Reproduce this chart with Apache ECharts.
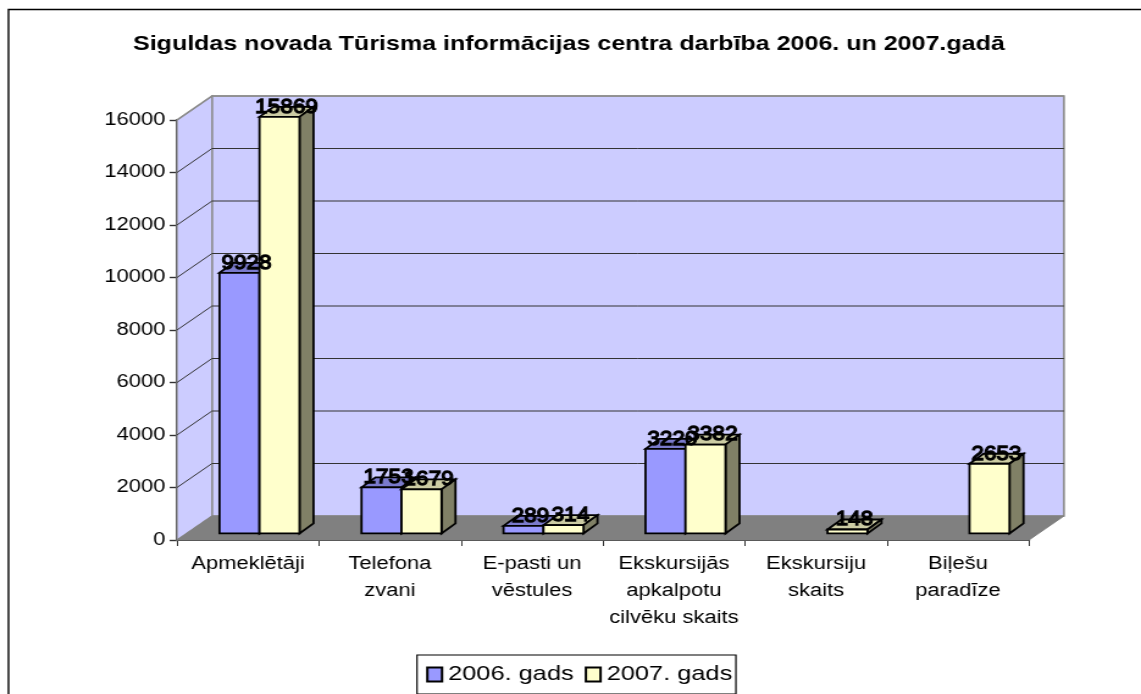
<!DOCTYPE html>
<html><head><meta charset="utf-8">
<style>
html,body{margin:0;padding:0;background:#fff;overflow:hidden;width:1141px;height:694px}
#main{width:935px;height:694px;transform-origin:0 0;transform:scaleX(1.2203)}
</style>
<script src="https://cdn.jsdelivr.net/npm/echarts@6/dist/echarts.min.js"></script>
</head><body><div id="main"></div>
<script>
const titleText = 'Siguldas novada Tūrisma informācijas centra darbība 2006. un 2007.gadā';
const categories = ['Apmeklētāji','Telefona\nzvani','E-pasti un\nvēstules','Ekskursijās\napkalpotu\ncilvēku skaits','Ekskursiju\nskaits','Biļešu\nparadīze'];
const series2006 = [9928,1753,289,3220,null,null];
const series2007 = [15869,1679,314,3382,148,2653];
const seriesNames = ['2006. gads','2007. gads'];
const yTicks = [0,2000,4000,6000,8000,10000,12000,14000,16000];

const FONT = '"Liberation Sans", Arial, sans-serif';
const S = 1141/935;
const X = v => v/S;
// depth of the 3D box, in the un-stretched drawing space
const wallDX = X(35), wallDY = -24;
const barDX = X(14), barDY = -10;
const barOffX = X(11.5), barOffY = -6.6;
const barW = X(40);

function shade(hex,f){const n=parseInt(hex.slice(1),16);
  const c=[n>>16,(n>>8)&255,n&255].map(v=>Math.round(v*f));
  return `rgb(${c.join(',')})`;}

function wallItem(params, api){
  const v = api.value(0);
  const r = params.coordSys;
  const y = api.coord([0,v])[1];
  const x0 = r.x, x1 = r.x + r.width;
  const ch = [];
  if (params.dataIndex === 0) {
    const top = r.y, bot = r.y + r.height;
    ch.push({type:'polygon',shape:{points:[[x0+wallDX,top+wallDY],[x1+wallDX,top+wallDY],[x1+wallDX,bot+wallDY],[x0+wallDX,bot+wallDY]]},style:{fill:'#ccccff',stroke:'#8c8c8c',lineWidth:1.6}});
    ch.push({type:'polygon',shape:{points:[[x0,top],[x0+wallDX,top+wallDY],[x0+wallDX,bot+wallDY],[x0,bot]]},style:{fill:'#ccccff',stroke:'#8c8c8c',lineWidth:1.2}});
    ch.push({type:'polygon',shape:{points:[[x0,bot],[x0+wallDX,bot+wallDY],[x1+wallDX,bot+wallDY],[x1,bot]]},style:{fill:'#808080',stroke:'#808080',lineWidth:1}});
  } else {
    ch.push({type:'polyline',shape:{points:[[x0,y],[x0+wallDX,y+wallDY],[x1+wallDX,y+wallDY]]},style:{fill:null,stroke:v===16000?'#8c8c8c':'#333',lineWidth:v===16000?1.6:1}});
  }
  return {type:'group',children:ch};
}

function barGeom(api, seriesIdx){
  const v = api.value(1);
  if (v === null || v === undefined || isNaN(v)) return null;
  const c = api.coord([api.value(0), v]);
  const b = api.coord([api.value(0), 0]);
  const xl = c[0] + barOffX - barW + seriesIdx*barW;
  return {v, xl, xr: xl+barW, yt: c[1]+barOffY, yb: b[1]+barOffY};
}

function barItem(seriesIdx, color){
  return function(params, api){
    const g = barGeom(api, seriesIdx);
    if (!g) return null;
    const {xl,xr,yt,yb} = g;
    const st = {stroke:'#000',lineWidth:1.8,lineJoin:'miter'};
    return {type:'group',children:[
      {type:'polygon',shape:{points:[[xl,yt],[xl+barDX,yt+barDY],[xr+barDX,yt+barDY],[xr,yt]]},style:Object.assign({fill:shade(color,0.8)},st)},
      {type:'polygon',shape:{points:[[xr,yt],[xr+barDX,yt+barDY],[xr+barDX,yb+barDY],[xr,yb]]},style:Object.assign({fill:shade(color,0.5)},st)},
      {type:'rect',shape:{x:xl,y:yt,width:barW,height:yb-yt},style:Object.assign({fill:color},st)}
    ]};
  };
}

function labelItem(seriesIdx){
  return function(params, api){
    const g = barGeom(api, seriesIdx);
    if (!g) return null;
    return {type:'text',x:(g.xl+g.xr+barDX)/2,y:g.yt-10,scaleX:0.88,style:{text:String(g.v),x:0,y:0,align:'center',verticalAlign:'middle',
      fill:'#000',stroke:'#000',lineWidth:1.3,font:'21px '+FONT}};
  };
}

const chart = echarts.init(document.getElementById('main'),null,{width:935,height:694,renderer:'canvas'});
chart.setOption({
  animation:false,
  backgroundColor:'#fff',
  graphic:[{type:'rect',z:-10,shape:{x:X(8.5),y:9.5,width:X(1200),height:720},style:{fill:'#fff',stroke:'#000',lineWidth:1.4}}],
  title:{text:titleText,left:X(133),top:34,textStyle:{fontFamily:FONT,fontWeight:'bold',fontSize:20.5,color:'#000'},padding:0},
  legend:{data:seriesNames,left:X(417),top:655,orient:'horizontal',icon:'rect',itemWidth:12,itemHeight:14,itemGap:9,padding:[9,3,9,7.5],
    backgroundColor:'#fff',borderColor:'#000',borderWidth:1.2,selectedMode:false,
    textStyle:{fontFamily:FONT,fontSize:20.8,color:'#000'}},
  grid:{left:X(177),top:120,width:X(852),height:420,containLabel:false},
  xAxis:{type:'category',data:categories,axisTick:{show:true,alignWithLabel:false,length:6,lineStyle:{color:'#333',width:1}},
    axisLine:{lineStyle:{color:'#333',width:2},onZero:false},
    axisLabel:{interval:0,margin:11,fontFamily:FONT,fontSize:18,color:'#000',lineHeight:27}},
  yAxis:{type:'value',min:0,max:16000,interval:2000,splitLine:{show:false},
    axisLine:{show:true,lineStyle:{color:'#333',width:2}},axisTick:{show:true,length:6,lineStyle:{color:'#333',width:1.4}},
    axisLabel:{margin:9.5,fontFamily:FONT,fontSize:18,color:'#000',formatter:v=>String(v)}},
  series:[
    {type:'custom',name:'walls',silent:true,z:1,data:yTicks.map(v=>[v]),encode:{y:0},clip:false,renderItem:wallItem},
    {type:'custom',name:seriesNames[0],z:2,itemStyle:{color:'#9999ff',borderColor:'#000',borderWidth:1.2},encode:{x:0,y:1},clip:false,
      data:series2006.map((v,i)=>[i,v]),renderItem:barItem(0,'#9999ff')},
    {type:'custom',name:seriesNames[1],z:3,itemStyle:{color:'#ffffcc',borderColor:'#000',borderWidth:1.2},encode:{x:0,y:1},clip:false,
      data:series2007.map((v,i)=>[i,v]),renderItem:barItem(1,'#ffffcc')},
    {type:'custom',name:'labels2006',silent:true,z:10,encode:{x:0,y:1},clip:false,data:series2006.map((v,i)=>[i,v]),renderItem:labelItem(0)},
    {type:'custom',name:'labels2007',silent:true,z:11,encode:{x:0,y:1},clip:false,data:series2007.map((v,i)=>[i,v]),renderItem:labelItem(1)}
  ]
});
</script></body></html>
